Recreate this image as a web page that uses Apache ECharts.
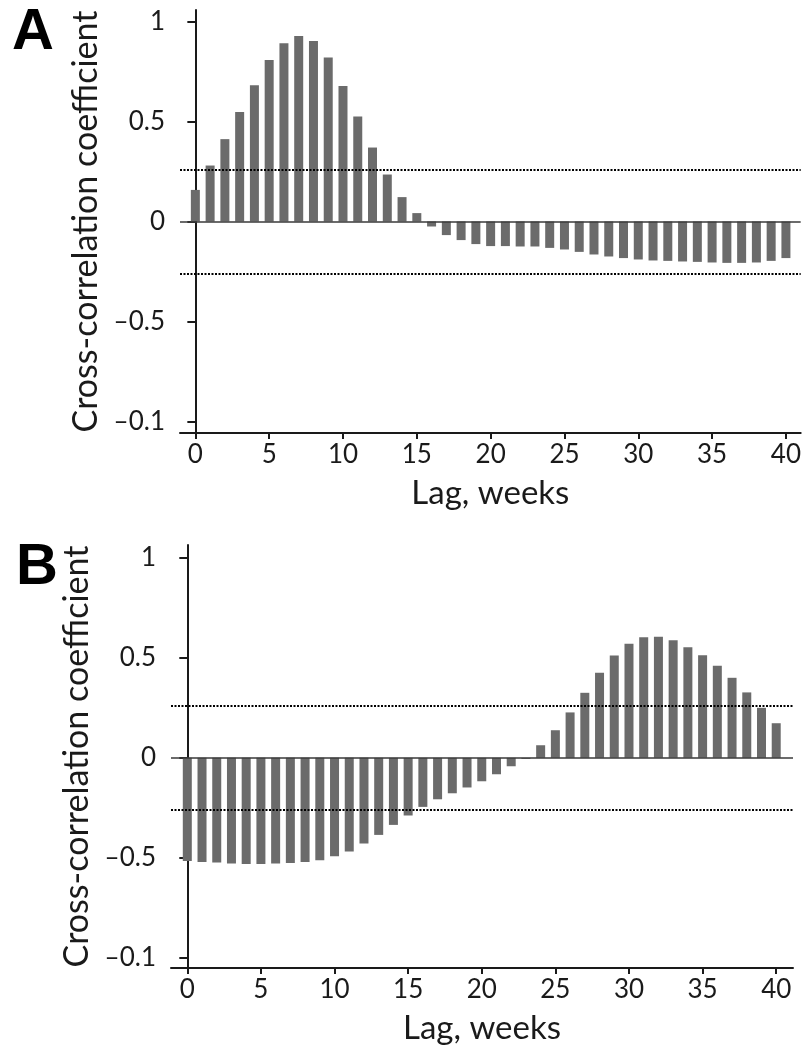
<!DOCTYPE html>
<html lang="en">
<head>
    <meta charset="UTF-8">
    <title>Cross-correlation, lag in weeks</title>
    <script src="https://cdn.jsdelivr.net/npm/echarts@6/dist/echarts.min.js"></script>
    <style>
        body { margin: 0; background: #fff; }
        #main_1 { width: 804px; height: 1051px; }
    </style>
</head>
<body>
<div id="main_1"></div>

<script>
    // lags, weeks
    var lags = [0, 1, 2, 3, 4, 5, 6, 7, 8, 9, 10, 11, 12, 13, 14, 15, 16, 17, 18, 19, 20,
        21, 22, 23, 24, 25, 26, 27, 28, 29, 30, 31, 32, 33, 34, 35, 36, 37, 38, 39, 40];

    // panel A
    var ccfA = [0.158, 0.28, 0.412, 0.548, 0.682, 0.808, 0.892, 0.928, 0.903, 0.82, 0.678,
        0.525, 0.37, 0.235, 0.122, 0.042, -0.025, -0.068, -0.093, -0.113, -0.123,
        -0.123, -0.125, -0.125, -0.132, -0.14, -0.152, -0.165, -0.175, -0.183, -0.19,
        -0.195, -0.197, -0.2, -0.202, -0.205, -0.207, -0.207, -0.205, -0.197, -0.183];

    // panel B
    var ccfB = [-0.515, -0.52, -0.523, -0.528, -0.53, -0.53, -0.528, -0.525, -0.52, -0.512, -0.492,
        -0.468, -0.428, -0.385, -0.335, -0.288, -0.245, -0.207, -0.177, -0.148, -0.117,
        -0.082, -0.042, -0.005, 0.063, 0.138, 0.227, 0.325, 0.425, 0.512, 0.57,
        0.602, 0.605, 0.587, 0.552, 0.513, 0.46, 0.4, 0.327, 0.25, 0.173];

    // confidence limits (dotted lines)
    var confLimit = 0.26;

    var xTicks = [0, 5, 10, 15, 20, 25, 30, 35, 40];
    var yTicks = [1, 0.5, 0, -0.5, -1];
    var yTickLabels = ['1', '0.5', '0', '\u20130.5', '\u20130.1'];

    var font = 'Lato';
    var ink = '#1a1a1a';

    function pairs(vals) {
        var out = [];
        for (var i = 0; i < lags.length; i++) {
            out.push([lags[i], vals[i]]);
        }
        return out;
    }

    function yLabel(v) {
        for (var i = 0; i < yTicks.length; i++) {
            if (Math.abs(yTicks[i] - v) < 1e-9) return yTickLabels[i];
        }
        return '';
    }

    function xAxisOpt(idx, min, max) {
        return {
            type: 'value', gridIndex: idx, min: min, max: max,
            name: 'Lag, weeks', nameLocation: 'middle', nameGap: 44,
            nameTextStyle: {fontFamily: font, fontSize: 33, color: ink},
            splitLine: {show: false},
            axisLine: {onZero: false, lineStyle: {color: ink, width: 2}},
            axisTick: {customValues: xTicks, length: 6, lineStyle: {color: ink, width: 2}},
            axisLabel: {customValues: xTicks, margin: 9, fontFamily: font, fontSize: 26, color: ink}
        };
    }

    function yAxisOpt(idx, min, max, gap) {
        return {
            type: 'value', gridIndex: idx, min: min, max: max,
            name: 'Cross-correlation coefficient', nameLocation: 'middle', nameGap: gap,
            nameTextStyle: {fontFamily: font, fontSize: 34, color: ink},
            splitLine: {show: false},
            axisLine: {show: true, lineStyle: {color: ink, width: 2}},
            axisTick: {show: true, customValues: yTicks, length: 8, lineStyle: {color: ink, width: 2}},
            axisLabel: {customValues: yTicks, margin: 15, fontFamily: font, fontSize: 26, color: ink,
                formatter: yLabel}
        };
    }

    var refLines = {
        silent: true, animation: false, symbol: 'none',
        label: {show: false},
        data: [
            {yAxis: confLimit, lineStyle: {type: [2, 1.5], color: '#000', width: 2.2}},
            {yAxis: -confLimit, lineStyle: {type: [2, 1.5], color: '#000', width: 2.2}},
            {yAxis: 0, lineStyle: {type: 'solid', color: '#3a3a3a', width: 1.6}}
        ]
    };

    function barSeries(idx, vals) {
        return {
            type: 'bar', xAxisIndex: idx, yAxisIndex: idx,
            data: pairs(vals), barWidth: 9,
            itemStyle: {color: '#6b6b6b'},
            animation: false,
            markLine: refLines
        };
    }

    var myChart = echarts.init(document.getElementById('main_1'));

    var option = {
        animation: false,
        grid: [
            {left: 180, top: 10, width: 621, height: 423},
            {left: 171, top: 545, width: 622, height: 423}
        ],
        xAxis: [xAxisOpt(0, -1.04, 41.0), xAxisOpt(1, -1.107, 41.14)],
        yAxis: [yAxisOpt(0, -1.058, 1.058, 72), yAxisOpt(1, -1.05, 1.0635, 70)],
        graphic: [
            {type: 'text', left: 12, top: 4,
                style: {text: 'A', fontFamily: 'Liberation Sans', fontWeight: 'bold', fontSize: 58, fill: '#000'}},
            {type: 'text', left: 16, top: 539,
                style: {text: 'B', fontFamily: 'Liberation Sans', fontWeight: 'bold', fontSize: 58, fill: '#000'}}
        ],
        series: [barSeries(0, ccfA), barSeries(1, ccfB)]
    };

    myChart.setOption(option);
</script>
</body>
</html>
